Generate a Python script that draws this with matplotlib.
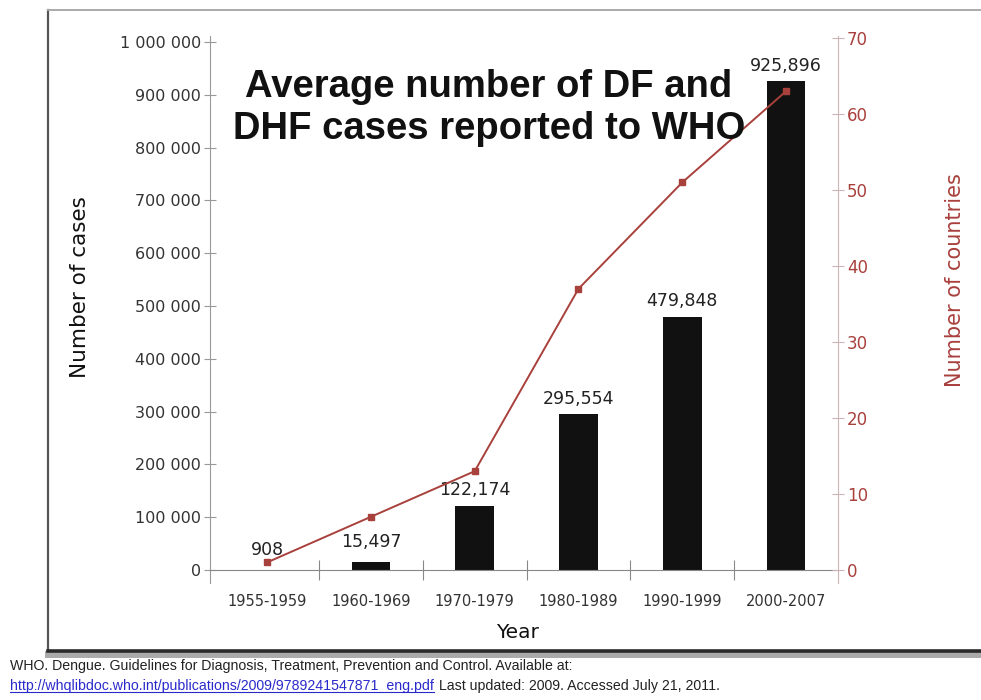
import matplotlib
matplotlib.use("Agg")
import matplotlib.pyplot as plt
from matplotlib.lines import Line2D
from matplotlib.ticker import FixedLocator

# data
periods = ['1955-1959', '1960-1969', '1970-1979', '1980-1989', '1990-1999', '2000-2007']
cases = [908, 15497, 122174, 295554, 479848, 925896]
case_labels = ['908', '15,497', '122,174', '295,554', '479,848', '925,896']
countries = [1, 7, 13, 37, 51, 63]
left_ticks = [0, 100000, 200000, 300000, 400000, 500000, 600000, 700000, 800000, 900000, 1000000]
right_ticks = [0, 10, 20, 30, 40, 50, 60, 70]

W, H = 981, 700
red = '#a8403c'
gray_txt = '#333333'

fig = plt.figure(figsize=(W / 100, H / 100), dpi=100)
fig.patch.set_facecolor('white')

# screenshot frame
fig.add_artist(Line2D([48 / W, 48 / W], [1 - 10 / H, 1 - 652 / H], color='#555555', lw=1.6))
fig.add_artist(Line2D([48 / W, 1], [1 - 10 / H, 1 - 10 / H], color='#aaaaaa', lw=1.4))
fig.add_artist(Line2D([48 / W, 1], [1 - 654 / H, 1 - 654 / H], color='#aaaaaa', lw=5))
fig.add_artist(Line2D([48 / W, 1], [1 - 651 / H, 1 - 651 / H], color='#2a2a2a', lw=2.6))

ax = fig.add_axes([210 / W, 1 - 583 / H, (838 - 210) / W, (583 - 36) / H])
x = list(range(len(periods)))
ax.bar(x, cases, width=0.37, color='#111111', zorder=2)
ax.set_xlim(-0.55, 5.5)
ax.set_ylim(-24600, 1011400)

for xi, v, lab in zip(x, cases, case_labels):
    off = 12000 if v > 100000 else 20000
    ax.text(xi, v + off, lab, ha='center', va='bottom', fontsize=12.5,
            color='#222222', zorder=5)

for s in ['top', 'right']:
    ax.spines[s].set_visible(False)
ax.spines['left'].set_color('#999999')
ax.spines['bottom'].set_color('#888888')
ax.spines['bottom'].set_position(('data', 0))

ax.set_yticks(left_ticks)
ax.set_yticklabels([format(t, ',').replace(',', ' ') for t in left_ticks])
ax.tick_params(axis='y', direction='inout', length=9, width=0.8, color='#999999',
               labelsize=11.5, labelcolor=gray_txt, pad=2)

ax.set_xticks(x)
ax.set_xticklabels(periods)
ax.xaxis.set_minor_locator(FixedLocator([0.5, 1.5, 2.5, 3.5, 4.5]))
ax.tick_params(axis='x', which='major', length=0, labelsize=10.5, labelcolor=gray_txt, pad=17)
ax.tick_params(axis='x', which='minor', direction='inout', length=14, width=0.8, color='#888888')

fig.text(80 / W, 1 - 287 / H, 'Number of cases', rotation=90, ha='center', va='center',
         fontsize=15.5, color='#111111')
fig.text(518 / W, 1 - 632 / H, 'Year', ha='center', va='center', fontsize=14.5, color='#111111')

ax2 = ax.twinx()
ax2.set_ylim(-1.71, 70.26)
ax2.plot(x, countries, color=red, lw=1.4, marker='s', markersize=4.5, zorder=4)
for s in ['top', 'left', 'bottom']:
    ax2.spines[s].set_visible(False)
ax2.spines['right'].set_color('#cdb5b5')
ax2.set_yticks(right_ticks)
ax2.tick_params(axis='y', direction='inout', length=9, width=0.8, color='#cdb5b5',
                labelsize=12, labelcolor=red, pad=2)
fig.text(955 / W, 1 - 280 / H, 'Number of countries', rotation=90, ha='center', va='center',
         fontsize=15, color=red)

fig.text(489 / W, 1 - 108 / H, 'Average number of DF and\nDHF cases reported to WHO',
         ha='center', va='center', fontsize=27.5, fontweight='bold', linespacing=1.18,
         family=['Liberation Sans', 'DejaVu Sans'], color='#111111')

# citation under the frame
fnt = ['Liberation Sans', 'DejaVu Sans']
fig.text(10 / W, 1 - 666 / H,
         'WHO. Dengue. Guidelines for Diagnosis, Treatment, Prevention and Control. Available at:',
         ha='left', va='center', fontsize=10.2, family=fnt, color='#222222')
link = fig.text(10 / W, 1 - 686 / H,
                'http://whqlibdoc.who.int/publications/2009/9789241547871_eng.pdf',
                ha='left', va='center', fontsize=10.2, family=fnt, color='#2a2acc')
fig.canvas.draw()
bb = link.get_window_extent().transformed(fig.transFigure.inverted())
fig.add_artist(Line2D([bb.x0, bb.x1], [bb.y0 + 0.002, bb.y0 + 0.002], color='#2a2acc', lw=0.8))
fig.text(bb.x1 + 5 / W, 1 - 686 / H, 'Last updated: 2009. Accessed July 21, 2011.',
         ha='left', va='center', fontsize=10.2, family=fnt, color='#222222')

fig.savefig('out.png', dpi=100)
